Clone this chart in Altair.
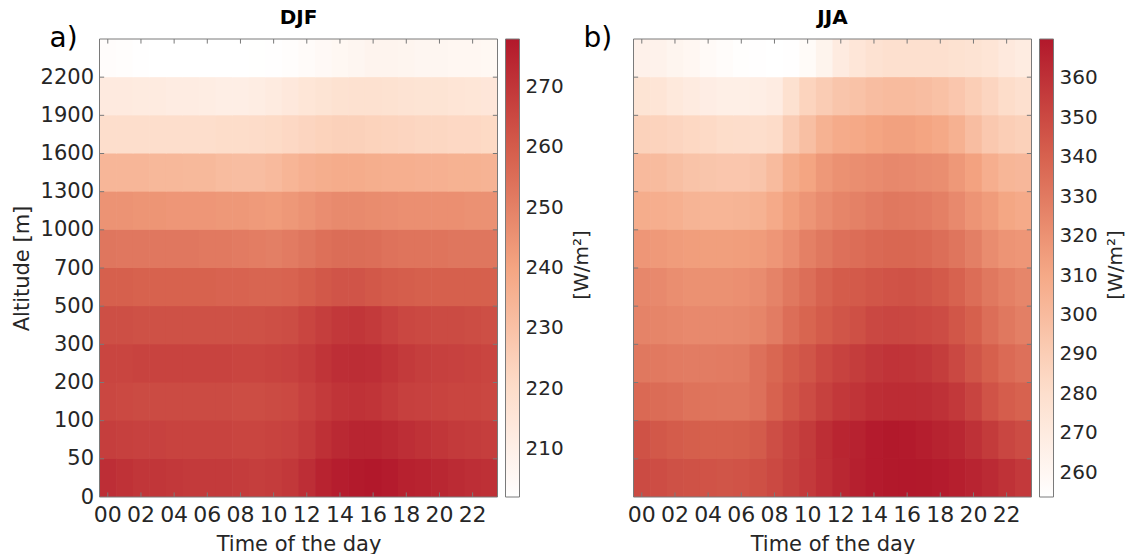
import altair as alt
import pandas as pd

# ---------------- data ----------------
hours = list(range(24))
hour_labels = ["00", "02", "04", "06", "08", "10", "12", "14", "16", "18", "20", "22"]
altitude_labels = ["0", "50", "100", "200", "300", "500", "700", "1000", "1300", "1600", "1900", "2200"]

# DJF, rows from the lowest band (0-50 m) to the highest (>2200 m), 24 hourly values each [W/m2]
djf_0 = [272, 271, 270, 270, 269.5, 269, 269, 269, 268.5, 268, 268.5, 269.5, 272, 275, 276.5, 277.5, 277.9, 277, 275.5, 275, 274, 273, 272, 271.5]
djf_1 = [268, 267.5, 267, 267, 266.5, 266.5, 266.5, 266.5, 266, 266, 266.5, 267, 269, 271.5, 273.5, 274.5, 274.5, 273.5, 272, 271, 270, 269, 268.5, 268]
djf_2 = [265.5, 265, 264.5, 264.5, 264.5, 264.5, 264.5, 264.5, 264, 264, 264.5, 265, 267, 269, 270.5, 271, 270.5, 269, 267.5, 267, 266.5, 266, 266, 265.5]
djf_3 = [266, 266, 266.5, 266.5, 266.5, 266.5, 266.5, 266.5, 266, 266, 266.5, 267, 268.5, 270.5, 272, 272.5, 272, 270.5, 269, 268, 267.5, 267, 266.5, 266]
djf_4 = [263.5, 263.5, 263, 263, 263, 263, 263, 263, 263, 263, 263.5, 264, 266, 268, 269.5, 270, 269, 267, 265.5, 265, 264.5, 264.5, 264, 263.5]
djf_5 = [259, 259, 258.5, 258.5, 258.5, 258.5, 258.5, 258, 258, 257.5, 257.5, 258, 259.5, 261, 262, 262, 261, 260, 259.5, 259, 259, 259, 259, 259]
djf_6 = [253, 252.5, 252.5, 252.5, 252.5, 252.5, 252, 252, 251.5, 251, 250.5, 251.5, 253, 254.5, 255.5, 255.5, 255, 254, 253.5, 253.5, 253.5, 253, 253, 253]
djf_7 = [245, 245, 244.5, 244.5, 244, 244, 244, 243.5, 243.5, 243, 242.5, 243.5, 245, 246.5, 247.5, 247.5, 247, 246.5, 246, 246, 246, 246, 245.5, 245.5]
djf_8 = [234, 234, 234, 233.5, 233.5, 233, 233, 232, 231.5, 231.5, 232.5, 234.5, 236, 237, 237.5, 237.5, 237, 236.5, 236.5, 236, 236, 235.5, 235.5, 235]
djf_9 = [219.5, 219.5, 219.5, 219.5, 219.5, 219.5, 219.5, 220, 220, 220.5, 221, 222, 223, 224, 224.5, 224.5, 224, 223.5, 223, 222.5, 222.5, 222, 222, 221.5]
djf_10 = [213, 213, 212.5, 212.5, 212, 212, 211.5, 211, 211, 211.5, 212.5, 214, 215.5, 216.5, 217.5, 218, 218, 217.5, 217, 216.5, 216.5, 216, 215.5, 215]
djf_11 = [203.5, 203, 202.5, 202.1, 202.1, 202.1, 202.1, 202.1, 202.2, 202.3, 202.5, 203, 204, 205, 206, 207, 208, 208, 207.5, 207, 207, 206.5, 206.5, 206]
djf_rows = [djf_0, djf_1, djf_2, djf_3, djf_4, djf_5, djf_6, djf_7, djf_8, djf_9, djf_10, djf_11]

# JJA
jja_0 = [349.5, 348.5, 347, 346.5, 346, 345.5, 346, 347.5, 350, 353.5, 356.5, 360.5, 364, 366.5, 368.5, 369.5, 369.9, 369.5, 368.5, 367, 365, 362.5, 359.5, 356.5]
jja_1 = [346.5, 344, 342.5, 341.5, 341, 341, 341.5, 343, 348, 352, 356, 361, 364.5, 366, 368.5, 369.5, 369, 367.5, 365.5, 364, 360, 356, 351.5, 349]
jja_2 = [337, 336, 335, 333, 332.5, 332, 332, 334, 340, 345, 349, 353.5, 357, 358.5, 361, 362, 362, 361.5, 360, 357, 352, 346, 342, 340]
jja_3 = [331, 330.5, 329.5, 329, 329, 329.5, 330, 334, 338, 342.5, 345.5, 350, 353, 355, 357.5, 359, 358.5, 357.5, 355, 350.5, 345.5, 341, 336.5, 334]
jja_4 = [326, 325.5, 324.5, 323.5, 323.5, 323.5, 324, 325.5, 329, 335, 339, 342.5, 345.5, 347.5, 350.5, 351.5, 351, 350, 349, 345, 341, 335, 331, 328]
jja_5 = [324.5, 323.5, 321.5, 320.5, 320.5, 320.5, 321, 322.5, 326, 331, 335, 339.5, 342.5, 343.5, 345, 346, 346.5, 345.5, 343.5, 340, 335.5, 331, 327.5, 325]
jja_6 = [318, 317, 315.5, 315, 314.5, 314.5, 315, 315.5, 318, 322, 327.5, 331, 334, 335.5, 337, 338, 338, 337, 335, 332, 328, 322.5, 319, 318]
jja_7 = [307.5, 307, 306, 304, 303.5, 303.5, 304, 305, 309, 314.5, 318.5, 322.5, 325.5, 327, 329, 331, 330.5, 329.5, 327.5, 323.5, 319, 315.5, 311, 309]
jja_8 = [300.5, 300, 298, 296, 294.5, 294, 294, 295, 300, 307.5, 312, 317.5, 320.5, 321.5, 323, 324, 323.5, 322.5, 321.5, 317.5, 313, 307, 303, 302]
jja_9 = [288, 287, 286, 284.5, 283.5, 281.5, 281, 280.5, 282, 291, 298, 305, 308.5, 310, 312, 313.5, 313.5, 312, 310, 305.5, 299, 293, 290, 288.5]
jja_10 = [276, 275, 272, 270, 268, 267, 267, 267.5, 269, 278, 286.5, 291, 294.5, 296.5, 299, 300, 300, 299, 297, 294, 290, 286, 281.5, 279]
jja_11 = [265, 264.5, 262, 260.5, 258, 256.5, 255, 254.5, 253.9, 254.5, 257.5, 263, 270, 274, 277, 278.5, 279, 279, 278.5, 277.5, 276.5, 275, 271.5, 269.5]
jja_rows = [jja_0, jja_1, jja_2, jja_3, jja_4, jja_5, jja_6, jja_7, jja_8, jja_9, jja_10, jja_11]

djf_colorbar_ticks = [210, 220, 230, 240, 250, 260, 270]
jja_colorbar_ticks = [260, 270, 280, 290, 300, 310, 320, 330, 340, 350, 360]
colorbar_label = "[W/m²]"

# ---------------- styling ----------------
FONT = "DejaVu Sans"
TXT = "#262626"
FRAME = "#7a7a7a"
CMAP = ["#ffffff", "#fddbc7", "#f4a582", "#d6604d", "#b2182b"]
W, H = 398, 458
NB = len(altitude_labels)
NH = len(hours)

alt_label_expr = "[" + ",".join("'%s'" % s for s in altitude_labels) + "][round(datum.value)]"
xtick_pos = [h + 0.5 for h in hours[::2]]
ytick_pos = list(range(1, NB))


def panel(rows, season, letter, ticks, show_y):
    recs = []
    for b, row in enumerate(rows):
        for h, v in zip(hours, row):
            recs.append({"hour": h, "band": b, "value": v})
    df = pd.DataFrame(recs)
    vmin, vmax = float(df["value"].min()), float(df["value"].max())
    cscale = alt.Scale(domain=[vmin, vmax], range=CMAP, interpolate="rgb", nice=False, zero=False)

    xs = alt.Scale(domain=[0, NH], nice=False, zero=False)
    ys = alt.Scale(domain=[0, NB], nice=False, zero=False)

    # hour labels are drawn as text marks below; the axis only carries the title
    x_axis = alt.Axis(values=xtick_pos, title="Time of the day", labels=False,
                      titleFontSize=21, titlePadding=36)
    if show_y:
        y_axis = alt.Axis(values=list(range(NB)), labelExpr=alt_label_expr, title="Altitude [m]",
                          labelFontSize=21, titleFontSize=21, labelPadding=6, titlePadding=8,
                          labelFlush=False, labelOverlap=False)
    else:
        y_axis = None

    # cells overlap their later neighbours very slightly so no hairline seams show
    heat = alt.Chart(df).transform_calculate(
        hour_end="min(datum.hour + 1.04, %d)" % NH,
        band_end="min(datum.band + 1.02, %d)" % NB,
    ).mark_rect().encode(
        x=alt.X("hour:Q", scale=xs, axis=x_axis),
        x2="hour_end:Q",
        y=alt.Y("band:Q", scale=ys, axis=y_axis),
        y2="band_end:Q",
        color=alt.Color("value:Q", scale=cscale, legend=alt.Legend(
            type="gradient", title=None, orient="right", direction="vertical", values=ticks,
            gradientLength=H, gradientThickness=14, gradientStrokeColor=FRAME, gradientStrokeWidth=1,
            labelFontSize=20, labelOffset=6, labelOverlap=False, labelColor=TXT,
            offset=8, padding=0)),
    )

    one = pd.DataFrame({"k": [0]})
    frame = alt.Chart(one).mark_rect(fill=None, stroke=FRAME, strokeWidth=1).encode(
        x=alt.datum(0), x2=alt.datum(NH), y=alt.datum(0), y2=alt.datum(NB))

    xt = pd.DataFrame({"pos": xtick_pos, "lab": hour_labels})
    yt = pd.DataFrame({"pos": ytick_pos})
    tl_y = 0.12
    tl_x = 0.28
    xb = alt.Chart(xt).mark_rule(color=FRAME, strokeWidth=1).encode(
        x="pos:Q", y=alt.datum(0), y2=alt.datum(tl_y))
    xtp = alt.Chart(xt).mark_rule(color=FRAME, strokeWidth=1).encode(
        x="pos:Q", y=alt.datum(NB), y2=alt.datum(NB - tl_y))
    yl = alt.Chart(yt).mark_rule(color=FRAME, strokeWidth=1).encode(
        y="pos:Q", x=alt.datum(0), x2=alt.datum(tl_x))
    yr = alt.Chart(yt).mark_rule(color=FRAME, strokeWidth=1).encode(
        y="pos:Q", x=alt.datum(NH), x2=alt.datum(NH - tl_x))
    xlab = alt.Chart(xt).mark_text(
        align="center", baseline="top", fontSize=22, font=FONT, color=TXT
    ).encode(x="pos:Q", y=alt.value(H + 8), text="lab:N")

    lab = alt.Chart(pd.DataFrame({"t": [letter]})).mark_text(
        align="left", baseline="middle", fontSize=28, font=FONT, color="black"
    ).encode(x=alt.value(-50), y=alt.value(0), text="t:N")

    cb_title = alt.Chart(pd.DataFrame({"t": [colorbar_label]})).mark_text(
        align="center", baseline="middle", angle=270, fontSize=20, font=FONT, color=TXT
    ).encode(x=alt.value(W + 84), y=alt.value(H / 2 - 3), text="t:N")

    return alt.layer(heat, frame, xb, xtp, yl, yr, xlab, lab, cb_title).properties(
        width=W, height=H,
        title=alt.TitleParams(season, fontSize=20, fontWeight="bold", font=FONT, color="black", offset=-3),
    )


a = panel(djf_rows, "DJF", "a)", djf_colorbar_ticks, True)
b = panel(jja_rows, "JJA", "b)", jja_colorbar_ticks, False)

chart = alt.hconcat(a, b, spacing=136, bounds="flush").resolve_scale(
    color="independent", x="independent", y="independent"
).properties(
    padding={"left": 10.5, "top": 8, "right": 0, "bottom": 0}
).configure(font=FONT).configure_view(stroke=None).configure_axis(
    domain=False, ticks=False, grid=False, labelColor=TXT, titleColor=TXT,
    labelFont=FONT, titleFont=FONT, titleFontWeight="normal"
).configure_legend(labelFont=FONT, titleFont=FONT)

chart.save("out.html", embed_options={"renderer": "svg", "actions": False})
